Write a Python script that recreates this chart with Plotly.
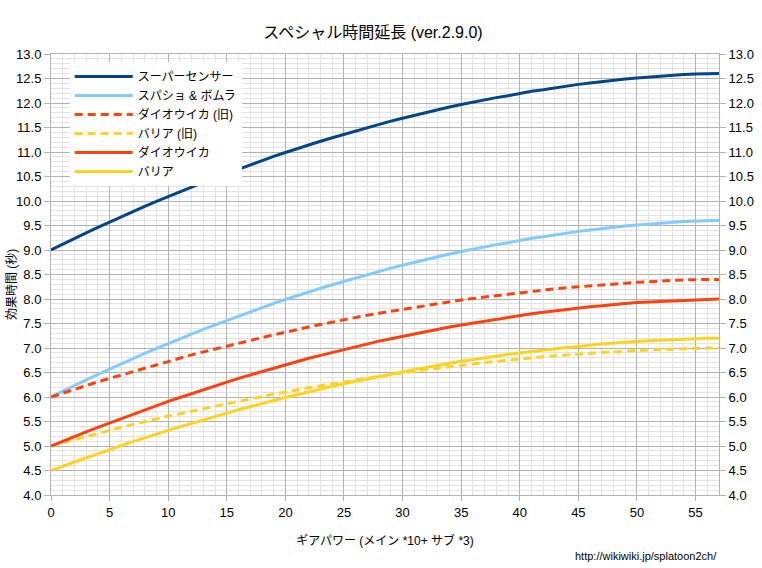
import plotly.graph_objects as go

gear_power = list(range(0, 58))

super_sensor = [9.00, 9.12, 9.23, 9.35, 9.46, 9.57, 9.68, 9.78, 9.89, 9.99,
                10.09, 10.19, 10.29, 10.38, 10.47, 10.56, 10.65, 10.74, 10.82, 10.91,
                10.99, 11.07, 11.14, 11.22, 11.29, 11.36, 11.43, 11.50, 11.56, 11.63,
                11.69, 11.75, 11.81, 11.86, 11.92, 11.97, 12.02, 12.06, 12.11, 12.15,
                12.20, 12.24, 12.27, 12.31, 12.35, 12.38, 12.41, 12.44, 12.46, 12.49,
                12.51, 12.53, 12.55, 12.57, 12.58, 12.59, 12.60, 12.60]

sprinkler_burst = [6.00, 6.12, 6.23, 6.35, 6.46, 6.57, 6.68, 6.78, 6.89, 6.99,
                   7.09, 7.19, 7.29, 7.38, 7.47, 7.56, 7.65, 7.74, 7.82, 7.91,
                   7.99, 8.07, 8.14, 8.22, 8.29, 8.36, 8.43, 8.50, 8.56, 8.63,
                   8.69, 8.75, 8.81, 8.86, 8.92, 8.97, 9.02, 9.06, 9.11, 9.15,
                   9.20, 9.24, 9.27, 9.31, 9.35, 9.38, 9.41, 9.44, 9.46, 9.49,
                   9.51, 9.53, 9.55, 9.57, 9.58, 9.59, 9.60, 9.60]

ink_armor_old = [6.00, 6.08, 6.16, 6.23, 6.31, 6.38, 6.45, 6.52, 6.59, 6.66,
                 6.73, 6.79, 6.86, 6.92, 6.98, 7.04, 7.10, 7.16, 7.22, 7.27,
                 7.32, 7.38, 7.43, 7.48, 7.53, 7.58, 7.62, 7.67, 7.71, 7.75,
                 7.79, 7.83, 7.87, 7.91, 7.94, 7.98, 8.01, 8.04, 8.07, 8.10,
                 8.13, 8.16, 8.18, 8.21, 8.23, 8.25, 8.27, 8.29, 8.31, 8.32,
                 8.34, 8.35, 8.37, 8.38, 8.39, 8.40, 8.40, 8.40]

barrier_old = [5.00, 5.07, 5.13, 5.19, 5.26, 5.32, 5.38, 5.44, 5.49, 5.55,
               5.61, 5.66, 5.71, 5.77, 5.82, 5.87, 5.92, 5.97, 6.01, 6.06,
               6.10, 6.15, 6.19, 6.23, 6.27, 6.31, 6.35, 6.39, 6.42, 6.46,
               6.49, 6.53, 6.56, 6.59, 6.62, 6.65, 6.68, 6.70, 6.73, 6.75,
               6.78, 6.80, 6.82, 6.84, 6.86, 6.88, 6.89, 6.91, 6.92, 6.94,
               6.95, 6.96, 6.97, 6.98, 6.99, 7.00, 7.00, 7.00]

ink_armor = [5.00, 5.10, 5.19, 5.29, 5.38, 5.47, 5.56, 5.65, 5.74, 5.83,
             5.91, 5.99, 6.07, 6.15, 6.23, 6.30, 6.38, 6.45, 6.52, 6.59,
             6.66, 6.72, 6.79, 6.85, 6.91, 6.97, 7.03, 7.08, 7.14, 7.19,
             7.24, 7.29, 7.34, 7.38, 7.43, 7.47, 7.51, 7.55, 7.59, 7.63,
             7.66, 7.70, 7.73, 7.76, 7.79, 7.81, 7.84, 7.86, 7.89, 7.91,
             7.93, 7.94, 7.96, 7.97, 7.98, 7.99, 8.00, 8.00]

barrier = [4.50, 4.59, 4.68, 4.76, 4.84, 4.93, 5.01, 5.09, 5.17, 5.24,
           5.32, 5.39, 5.46, 5.54, 5.60, 5.67, 5.74, 5.80, 5.87, 5.93,
           5.99, 6.05, 6.11, 6.16, 6.22, 6.27, 6.32, 6.37, 6.42, 6.47,
           6.52, 6.56, 6.60, 6.65, 6.69, 6.73, 6.76, 6.80, 6.83, 6.87,
           6.90, 6.93, 6.96, 6.98, 7.01, 7.03, 7.06, 7.08, 7.10, 7.12,
           7.13, 7.15, 7.16, 7.17, 7.19, 7.20, 7.20, 7.20]

series = [
    ("スーパーセンサー", super_sensor, "#004586", "solid"),
    ("スパショ & ボムラ", sprinkler_burst, "#83caff", "solid"),
    ("ダイオウイカ (旧)", ink_armor_old, "#ff420e", "8px,5px"),
    ("バリア (旧)", barrier_old, "#ffd320", "8px,5px"),
    ("ダイオウイカ", ink_armor, "#ff420e", "solid"),
    ("バリア", barrier, "#ffd320", "solid"),
]

FONT = "Liberation Sans, Arial, Noto Sans CJK JP, sans-serif"

fig = go.Figure()
for name, vals, color, dash in series:
    fig.add_trace(go.Scatter(x=gear_power, y=vals, mode="lines", name=name,
                             line=dict(color=color, width=3, dash=dash)))

# invisible trace to show the right-hand axis
fig.add_trace(go.Scatter(x=[gear_power[0]], y=[super_sensor[0]], yaxis="y2",
                         mode="markers", marker=dict(opacity=0),
                         showlegend=False, hoverinfo="skip"))

yticks = dict(range=[4.0, 13.0], dtick=0.5, tick0=4.0, tickformat=".1f",
              ticks="outside", ticklen=6, tickcolor="#b3b3b3", automargin=False,
              tickfont=dict(size=13, color="#000000", family=FONT))

fig.update_layout(
    width=762, height=568,
    margin=dict(l=51, r=43, t=54, b=73, autoexpand=False),
    paper_bgcolor="white", plot_bgcolor="white",
    font=dict(family=FONT, color="#000000", size=12),
    title=dict(text="スペシャル時間延長 (ver.2.9.0)", x=373 / 762, xanchor="center",
               y=1 - 32 / 568, yanchor="middle", font=dict(size=16)),
    xaxis=dict(range=[0, 57], dtick=5, tick0=0, ticks="outside", ticklen=5,
               tickcolor="#b3b3b3", automargin=False,
               showgrid=True, gridcolor="#b3b3b3", gridwidth=1,
               minor=dict(dtick=1, showgrid=True, gridcolor="#e3e3e3", gridwidth=1),
               showline=True, linecolor="#b3b3b3", mirror=True, zeroline=False,
               tickfont=dict(size=13),
               title=dict(text="ギアパワー (メイン *10+ サブ *3)", font=dict(size=12), standoff=18)),
    yaxis=dict(**yticks, showgrid=True, gridcolor="#b3b3b3", gridwidth=1,
               minor=dict(dtick=0.1, showgrid=True, gridcolor="#e3e3e3", gridwidth=1),
               showline=True, linecolor="#b3b3b3", zeroline=False),
    yaxis2=dict(**yticks, overlaying="y", side="right", showgrid=False,
                showline=True, linecolor="#b3b3b3", zeroline=False),
    legend=dict(x=0.028, y=0.982, xanchor="left", yanchor="top",
                bgcolor="white", borderwidth=0, tracegroupgap=0,
                itemwidth=58, font=dict(size=12)),
    annotations=[
        dict(text="効果時間 (秒)", xref="paper", yref="paper",
             x=(12 - 51) / 668, y=(495 - 285) / 441, xanchor="center", yanchor="middle",
             textangle=-90, showarrow=False, font=dict(size=12)),
        dict(text="http://wikiwiki.jp/splatoon2ch/", xref="paper", yref="paper",
             x=1.0, y=-0.138, xanchor="right", yanchor="middle",
             showarrow=False, font=dict(size=11)),
    ],
)

fig.write_html("out.html", config={"displayModeBar": False},
               post_script="document.body.style.margin='0';document.body.style.padding='0';")
